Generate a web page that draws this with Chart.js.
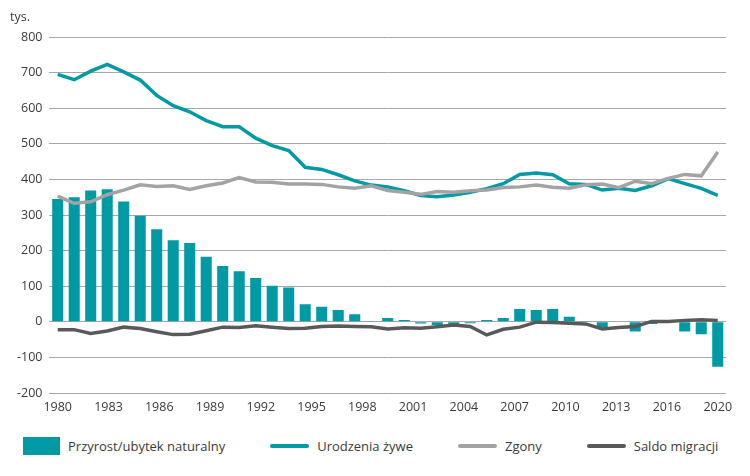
<!DOCTYPE html>
<html>
<head>
<meta charset="utf-8">
<script src="https://cdn.jsdelivr.net/npm/chart.js@4.4.1/dist/chart.umd.min.js"></script>
<style>
  body { margin: 0; background: #fff; }
  #wrap { position: relative; width: 750px; height: 476px; }
  #box { position: absolute; left: 0; top: 0; width: 750px; height: 425px; }
  #legend { position: absolute; left: 0; top: 436px; width: 727px; height: 20px; padding-left: 23px;
            display: flex; justify-content: flex-start; gap: 45px;
            font: 13px "Open Sans", sans-serif; color: #3a3a3a; }
  #legend .item { display: flex; align-items: center; }
  #legend .mark { margin-right: 8px; }
</style>
</head>
<body>
<div id="wrap">
  <div id="box"><canvas id="myChart"></canvas></div>
  <div id="legend"></div>
</div>
<script>
const years = [];
for (let y = 1980; y <= 2020; y++) years.push(String(y));

const tickLabels = ['1980','1983','1986','1989','1992','1995','1998','2001','2004','2007','2010','2013','2016','2020'];

// Przyrost/ubytek naturalny (tys.)
const naturalny = [345, 350, 369, 372, 338, 298, 260, 229, 221, 183,
                   157, 142, 123, 101, 96, 49, 42, 33, 21, 1,
                   11, 5, -5, -9, -7, -4, 5, 11, 36, 33,
                   36, 14, 1, -15, -1, -27, -6, -1, -27, -35,
                   -126];

// Urodzenia żywe
const urodzenia = [695, 680, 704, 723, 702, 679, 636, 607, 590, 565,
                   548, 548, 516, 495, 481, 434, 428, 413, 396, 384,
                   379, 368, 355, 351, 356, 364, 374, 388, 414, 418,
                   413, 388, 386, 370, 375, 369, 382, 402, 388, 375,
                   355];

// Zgony
const zgony = [353, 333, 337, 357, 370, 385, 380, 382, 372, 382,
               390, 405, 393, 392, 387, 387, 386, 379, 375, 382,
               369, 364, 358, 366, 364, 368, 370, 377, 379, 384,
               378, 375, 385, 387, 377, 395, 388, 403, 414, 410,
               477];

// Saldo migracji
const migracja = [-22, -22, -33, -26, -15, -19, -28, -36, -35, -25,
                  -15, -16, -11, -15, -19, -18, -13, -12, -13, -14,
                  -20, -17, -18, -14, -9, -13, -37, -21, -15, -1,
                  -2, -4, -6, -20, -16, -13, 1, 1, 4, 6,
                  4];

const teal = '#009aa4';
const gray = '#a3a3a3';
const dark = '#595959';
const textColor = '#3a3a3a';
const font = { family: '"Open Sans", sans-serif', size: 12.5, weight: 'normal' };

// legend drawn as html from the datasets
const htmlLegend = {
    id: 'htmlLegend',
    afterUpdate(chart) {
        const el = document.getElementById('legend');
        el.innerHTML = '';
        chart.data.datasets.forEach(ds => {
            const item = document.createElement('div');
            item.className = 'item';
            const mark = document.createElement('span');
            mark.className = 'mark';
            if (ds.type === 'line') {
                mark.style.cssText = 'width:39px;height:4px;border-radius:2px;background:' + ds.borderColor;
            } else {
                mark.style.cssText = 'width:37px;height:18px;background:' + ds.backgroundColor;
            }
            const txt = document.createElement('span');
            txt.textContent = ds.label;
            item.appendChild(mark);
            item.appendChild(txt);
            el.appendChild(item);
        });
    }
};

// x2 runs 0..13 from the first to the last bar centre
const pad = 13 * 0.5 / 40;

const data = {
    labels: years,
    datasets: [
        {
            type: 'bar',
            label: 'Przyrost/ubytek naturalny',
            data: naturalny,
            backgroundColor: teal,
            categoryPercentage: 1,
            barPercentage: 0.67,
            order: 3
        },
        {
            type: 'line',
            label: 'Urodzenia żywe',
            data: urodzenia,
            borderColor: teal,
            borderWidth: 3.5,
            pointRadius: 0,
            tension: 0,
            order: 2
        },
        {
            type: 'line',
            label: 'Zgony',
            data: zgony,
            borderColor: gray,
            borderWidth: 3.5,
            pointRadius: 0,
            tension: 0,
            order: 1
        },
        {
            type: 'line',
            label: 'Saldo migracji',
            data: migracja,
            borderColor: dark,
            borderWidth: 3.5,
            pointRadius: 0,
            tension: 0,
            order: 0
        }
    ]
};

const config = {
    type: 'bar',
    data: data,
    plugins: [htmlLegend],
    options: {
        responsive: true,
        maintainAspectRatio: false,
        animation: false,
        layout: { padding: { top: 6, left: 10, right: 24, bottom: 3 } },
        plugins: {
            legend: { display: false },
            tooltip: { enabled: false },
            title: {
                display: true,
                text: 'tys.',
                align: 'start',
                color: textColor,
                font: font,
                padding: { top: 4, bottom: 12 }
            }
        },
        scales: {
            x: { display: false, offset: true },
            x2: {
                type: 'linear',
                position: 'bottom',
                offset: false,
                min: -pad,
                max: 13 + pad,
                afterBuildTicks: axis => { axis.ticks = tickLabels.map((t, i) => ({ value: i })); },
                ticks: {
                    callback: (v, i) => tickLabels[i],
                    autoSkip: false,
                    maxRotation: 0,
                    padding: 7,
                    color: textColor,
                    font: font
                },
                grid: { display: false, drawTicks: false, offset: false },
                border: { display: false }
            },
            y: {
                min: -200,
                max: 800,
                ticks: { stepSize: 100, padding: 7, color: textColor, font: font },
                grid: { color: '#a8a8a8', lineWidth: 1, drawTicks: false },
                border: { display: false }
            }
        }
    }
};

const myChart = new Chart(document.getElementById('myChart'), config);
</script>
</body>
</html>
